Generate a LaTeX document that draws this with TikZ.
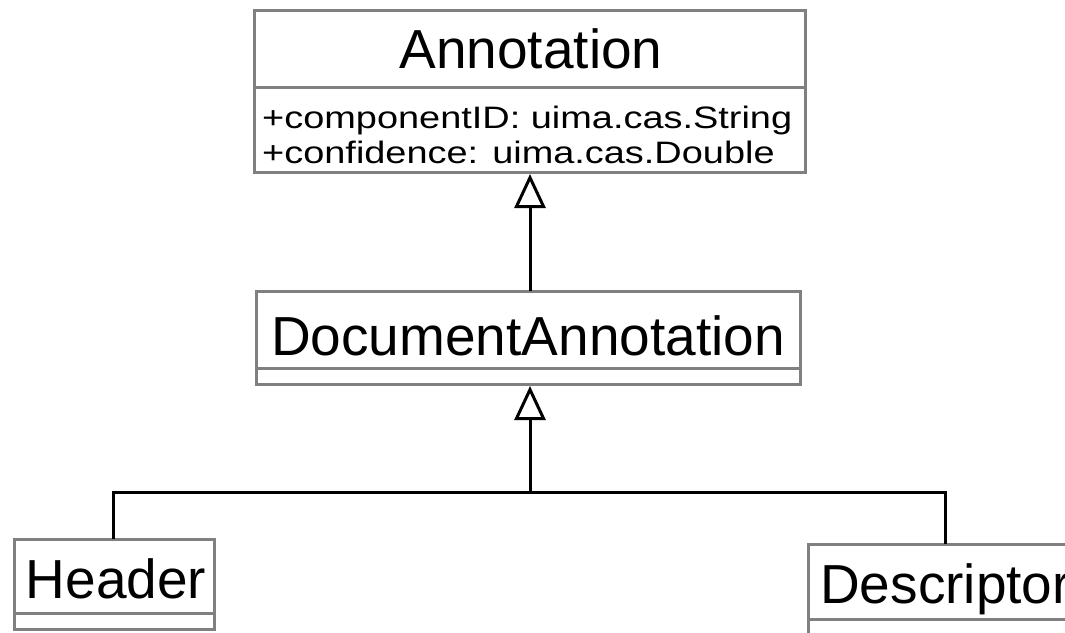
\documentclass[tikz,border=0pt]{standalone}
\usepackage{fontspec}
\setmainfont{Liberation Sans}
\usetikzlibrary{arrows.meta}
\definecolor{boxgray}{RGB}{128,128,128}
\tikzset{
  classbox/.style={draw=boxgray, line width=3pt, fill=white, rectangle, inner sep=0pt, outer sep=0pt, anchor=north west},
  divider/.style={draw=boxgray, line width=3pt},
  titletext/.style={font=\fontsize{55}{60}\selectfont, inner sep=0pt, anchor=base},
  attrtext/.style={font=\fontsize{31}{34}\selectfont, inner sep=0pt, anchor=base west},
  inherit/.style={draw=black, line width=3pt, -{Triangle[open, length=34pt 0, width=31pt 0, fill=white]}},
  wire/.style={draw=black, line width=3pt}
}
\begin{document}
\begin{tikzpicture}[x=1pt, y=-1pt]
\useasboundingbox (0,0) rectangle (1065,632);
\clip (0,0) rectangle (1065,632);
\fill[white] (0,0) rectangle (1065,632);
% Annotation
\node[classbox, minimum width=551pt, minimum height=162pt] (ann) at (254,10) {};
\draw[divider] (254,87) -- (805,87);
\node[titletext] (annT) at (531,68) {Annotation};
\node[attrtext] (annA1) at (262,128) {\scalebox{1.223}[1]{+componentID: uima.cas.String}};
\node[attrtext] (annA2) at (262,163) {\scalebox{1.223}[1]{+confidence: uima.cas.Double}};
% DocumentAnnotation
\node[classbox, minimum width=544pt, minimum height=93pt] (doc) at (256,291) {};
\draw[divider] (256,368) -- (800,368);
\node[titletext] (docT) at (528,355) {DocumentAnnotation};
% Header
\node[classbox, minimum width=200pt, minimum height=90pt] (hdr) at (14,539) {};
\draw[divider] (14,613) -- (214,613);
\node[titletext] (hdrT) at (116,598) {Header};
% Descriptor
\node[classbox, minimum width=300pt, minimum height=110pt] (desc) at (808,544) {};
\draw[divider] (808,619) -- (1108,619);
\node[titletext, anchor=base west] (descT) at (820,603) {Descriptor};
% connectors
\coordinate (annB) at (530,174);
\draw[inherit] (doc.north -| annB) -- (annB);
\coordinate (j) at (530,492);
\coordinate (docB) at (530,386);
\draw[wire] (hdr.north -| 113,0) |- (j);
\draw[wire] (desc.north -| 945,0) |- (j);
\draw[inherit] (j) -- (docB);
\end{tikzpicture}
\end{document}
